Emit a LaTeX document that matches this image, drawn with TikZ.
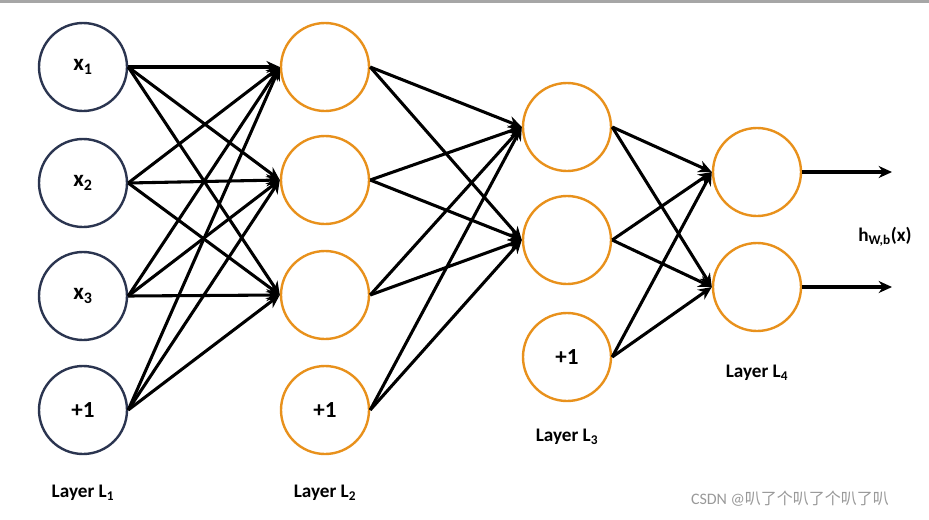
\documentclass[tikz,border=0pt]{standalone}
\usepackage{fontspec}
\setmainfont{Carlito}
\newfontfamily\cjk{Noto Sans CJK SC}
\usetikzlibrary{arrows.meta}
\definecolor{bl}{HTML}{2B3550}
\definecolor{og}{HTML}{E8911C}
\newcommand{\sbs}[1]{\textsubscript{\bfseries #1}}
\begin{document}
\begin{tikzpicture}[x=0.75pt,y=-0.75pt,
  neu/.style={circle,draw,line width=1.8pt,minimum size=66pt,inner sep=0pt,font=\bfseries\LARGE},
  inp/.style={neu,draw=bl},
  hid/.style={neu,draw=og},
  con/.style={line width=2.3pt,-{Stealth[length=10pt,width=9pt]}},
  lab/.style={font=\bfseries\Large}]
\useasboundingbox (0,0) rectangle (929,519);
\fill[gray!70] (0,0) rectangle (929,3);
\node[inp] (a1) at (83,67) {x\sbs{1}};
\node[inp] (a2) at (83,183) {x\sbs{2}};
\node[inp] (a3) at (83,296) {x\sbs{3}};
\node[inp] (a4) at (83,410) {+1};
\node[hid] (b1) at (325,67) {};
\node[hid] (b2) at (325,180) {};
\node[hid] (b3) at (325,295) {};
\node[hid] (b4) at (325,410) {+1};
\node[hid] (c1) at (567,127) {};
\node[hid] (c2) at (567,240) {};
\node[hid] (c3) at (567,357) {+1};
\node[hid] (d1) at (757,172) {};
\node[hid] (d2) at (757,287) {};
\coordinate (o1) at (892,172);
\coordinate (o2) at (892,287);
\foreach \i in {1,...,4}{\foreach \j in {1,2,3}{\draw[con] (a\i.east) -- (b\j.west);}}
\foreach \i in {1,...,4}{\foreach \j in {1,2}{\draw[con] (b\i.east) -- (c\j.west);}}
\foreach \i in {1,...,3}{\foreach \j in {1,2}{\draw[con] (c\i.east) -- (d\j.west);}}
\draw[con] (d1.east) -- (o1);
\draw[con] (d2.east) -- (o2);
\node[lab] (hl) at (885,237) {h\textsubscript{\bfseries W,b}(x)};
\node[lab] (l1) at (83,493) {Layer L\sbs{1}};
\node[lab] (l2) at (325,493) {Layer L\sbs{2}};
\node[lab] (l3) at (567,437) {Layer L\sbs{3}};
\node[lab] (l4) at (757,373) {Layer L\sbs{4}};
\node[text=gray!80,font=\large] (wm) at (790,499) {CSDN @{\cjk 叭了个叭了个叭了叭}};
\end{tikzpicture}
\end{document}
